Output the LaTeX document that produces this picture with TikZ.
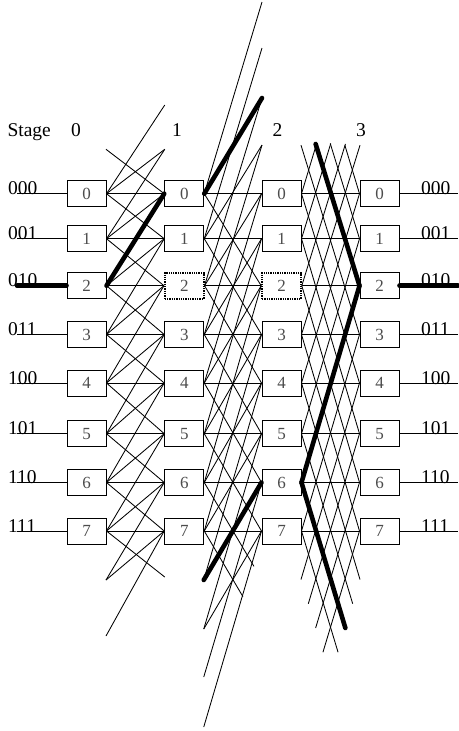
\documentclass[tikz,border=0pt]{standalone}
\usepackage{fontspec}
\setmainfont{Liberation Serif}
\usetikzlibrary{calc}
\begin{document}
\begin{tikzpicture}[x=1pt,y=-1pt,
  pe/.style={draw, line width=1pt, minimum width=39pt, minimum height=26pt,
    inner sep=0pt, font=\fontsize{17}{17}\selectfont, text=black!70},
  idle/.style={pe, line width=1.6pt, dash pattern=on 1.3pt off 1pt},
  wire/.style={line width=0.85pt},
  route/.style={line width=4.6pt, line cap=round},
  lbl/.style={font=\fontsize{19.5}{19.5}\selectfont, inner sep=0pt, anchor=base west}]
\useasboundingbox (0,0) rectangle (458,731);

% stage headings
\node[lbl] (stage) at (7.3,136) {Stage};
\foreach \s/\x in {0/76,1/177,2/277.5,3/361}
  \node[lbl, anchor=base] (stage-\s) at (\x,136) {\s};

% switching elements, input and output lines with their addresses
\foreach \i/\y/\code in {0/193.7/000,1/238.7/001,2/285.7/010,3/334.5/011,
                         4/383/100,5/433.7/101,6/482.5/110,7/531/111} {
  \foreach \k/\x in {0/86.5,1/184.25,2/281.5,3/379.5} {
    \pgfmathtruncatemacro\isidle{(\i==2)&&(\k>0)&&(\k<3)}
    \ifnum\isidle=1 \tikzset{st/.style={idle}}\else\tikzset{st/.style={pe}}\fi
    \node[st] (b-\k-\i) at (\x,\y) {\i};
  }
  \coordinate (in-\i) at (17,\y);
  \coordinate (out-\i) at (458,\y);
  \node[lbl] (src-\i) at (8,\y+1) {\code};
  \node[lbl] (dst-\i) at (421,\y+1) {\code};
  \draw[wire] (in-\i) -- (b-0-\i.west);
  \draw[wire] (b-3-\i.east) -- (out-\i);
}

% wrap-around end points beyond rows 0..7
\coordinate (E-0--1) at (106,149.3);
\coordinate (E-0-8)  at (106,580);
\coordinate (E-0-9)  at (106,636);
\coordinate (W-1--2) at (164.75,105);
\coordinate (W-1--1) at (164.75,149.3);
\coordinate (W-1-8)  at (164.75,577);

\coordinate (E-1-8)  at (203.75,580);
\coordinate (E-1-9)  at (203.75,629);
\coordinate (E-1-10) at (203.75,677);
\coordinate (E-1-11) at (203.75,727);
\coordinate (W-2--4) at (262,2);
\coordinate (W-2--3) at (262,48);
\coordinate (W-2--2) at (262,98);
\coordinate (W-2--1) at (262,145);
\coordinate (W-2-8)  at (262,580);
\coordinate (W-2-9)  at (262,629);

\foreach \r/\y in {-4/0,-3/48.2,-2/96.7,-1/145.2,8/579.5,9/628,10/676.5,11/725} {
  \coordinate (E-2-\r) at (301,\y);
  \coordinate (W-3-\r) at (360,\y);
}

% stage 0: i -> i, i+1, i-1, i-2
\foreach \i in {0,...,7}
  \draw[wire] (b-0-\i.east) -- (b-1-\i.west);
\foreach \i [evaluate=\i as \j using int(\i+1)] in {0,...,6}
  \draw[wire] (b-0-\i.east) -- (b-1-\j.west);
\foreach \i [evaluate=\i as \j using int(\i-1)] in {1,...,7}
  \draw[wire] (b-0-\i.east) -- (b-1-\j.west);
\foreach \i [evaluate=\i as \j using int(\i-2)] in {2,...,7}
  \draw[wire] (b-0-\i.east) -- (b-1-\j.west);
\draw[wire] (b-0-7.east) -- (W-1-8);
\draw[wire] (E-0--1) -- (b-1-0.west);
\draw[wire] (b-0-0.east) -- (W-1--1);
\draw[wire] (b-0-0.east) -- (W-1--2);
\draw[wire] (b-0-1.east) -- (W-1--1);
\draw[wire] (E-0-8) -- (b-1-7.west);
\draw[wire] (E-0-8) -- (b-1-6.west);
\draw[wire] (E-0-9) -- (b-1-7.west);

% stage 1: i -> i, i+2, i-2, i-4
\foreach \i in {0,...,7}
  \draw[wire] (b-1-\i.east) -- (b-2-\i.west);
\foreach \i [evaluate=\i as \j using int(\i+2)] in {0,...,5}
  \draw[wire] (b-1-\i.east) -- (b-2-\j.west);
\foreach \i [evaluate=\i as \j using int(\i-2)] in {2,...,7}
  \draw[wire] (b-1-\i.east) -- (b-2-\j.west);
\foreach \i [evaluate=\i as \j using int(\i-4)] in {4,...,7}
  \draw[wire] (b-1-\i.east) -- (b-2-\j.west);
\draw[wire] (b-1-6.east) -- ($(b-1-6.east)!0.86!(W-2-8)$);
\draw[wire] (b-1-7.east) -- ($(b-1-7.east)!0.67!(W-2-9)$);
\draw[wire] (b-1-1.east) -- (W-2--1);
\draw[wire] (E-1-9) -- (b-2-7.west);
\foreach \i [evaluate=\i as \j using int(\i-4),
             evaluate=\i as \m using int(\i+8),
             evaluate=\i as \n using int(\i+4)] in {0,...,3} {
  \draw[wire] (b-1-\i.east) -- (W-2-\j);
  \draw[wire] (E-1-\m) -- (b-2-\n.west);
}

% stage 2: i -> i, i+4, i-4
\foreach \i in {0,...,7}
  \draw[wire] (b-2-\i.east) -- (b-3-\i.west);
\foreach \i [evaluate=\i as \j using int(\i+4)] in {0,...,3}
  \draw[wire] (b-2-\i.east) -- (b-3-\j.west);
\foreach \i [evaluate=\i as \j using int(\i-4)] in {4,...,7}
  \draw[wire] (b-2-\i.east) -- (b-3-\j.west);
% wrap-around lattice, cut off above and below
\foreach \i [evaluate=\i as \j using int(\i-4),
             evaluate=\i as \t using (\i+1)/4] in {0,...,3}
  \draw[wire] (b-2-\i.east) -- ($(b-2-\i.east)!\t!(W-3-\j)$);
\foreach \i [evaluate=\i as \j using int(\i-4),
             evaluate=\i as \t using (3-\i)/4] in {0,...,3}
  \draw[wire] ($(E-2-\j)!\t!(b-3-\i.west)$) -- (b-3-\i.west);
\foreach \i [evaluate=\i as \j using int(\i+4),
             evaluate=\i as \t using 1-(\i-4)/8] in {4,...,7}
  \draw[wire] (b-2-\i.east) -- ($(b-2-\i.east)!\t!(W-3-\j)$);
\foreach \i [evaluate=\i as \j using int(\i+4),
             evaluate=\i as \t using (\i-4)/8] in {4,...,7}
  \draw[wire] ($(E-2-\j)!\t!(b-3-\i.west)$) -- (b-3-\i.west);

% highlighted route from input 010 to output 010
\draw[route] (in-2) -- (b-0-2.west);
\draw[route] (b-0-2.east) -- (b-1-0.west);
\draw[route] (b-1-0.east) -- (W-2--2);
\draw[route] (E-1-8) -- (b-2-6.west);
\draw[route] (b-2-6.east) -- (b-3-2.west);
\draw[route] (b-2-6.east) -- ($(b-2-6.east)!0.75!(W-3-10)$);
\draw[route] ($(E-2--2)!0.25!(b-3-2.west)$) -- (b-3-2.west);
\draw[route] (b-3-2.east) -- (out-2);
\end{tikzpicture}
\end{document}
